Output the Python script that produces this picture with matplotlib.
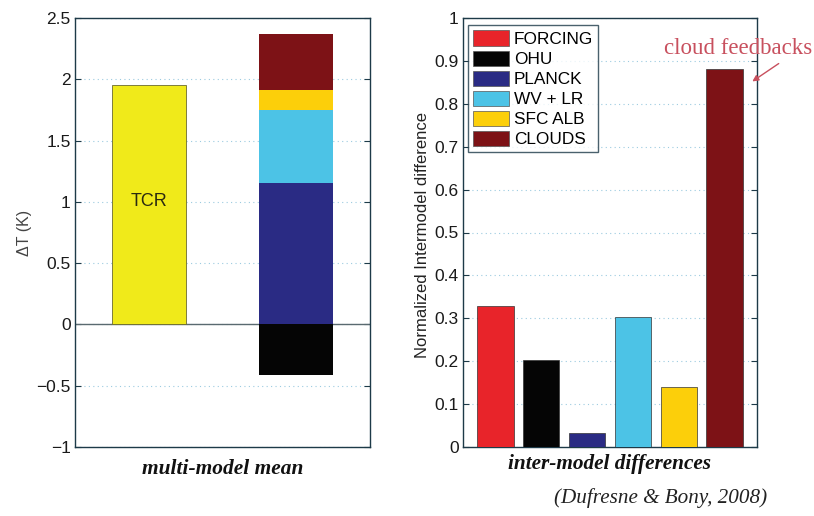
import matplotlib
matplotlib.use("Agg")
import matplotlib.pyplot as plt
from matplotlib.patches import Patch

# ---- data ----
tcr_value = [1.95]
stack_labels = ["OHU", "PLANCK", "WV + LR", "SFC ALB", "CLOUDS"]
stack_values = [-0.41, 1.157, 0.593, 0.16, 0.46]

diff_labels = ["FORCING", "OHU", "PLANCK", "WV + LR", "SFC ALB", "CLOUDS"]
diff_values = [0.329, 0.203, 0.033, 0.304, 0.141, 0.882]

colors = {
    "FORCING": "#e8242a",
    "OHU": "#050505",
    "PLANCK": "#2a2b84",
    "WV + LR": "#4cc3e6",
    "SFC ALB": "#fccf0a",
    "CLOUDS": "#7d1216",
}
tcr_color = "#f0ea1a"

left_yticks = [-1, -0.5, 0, 0.5, 1, 1.5, 2, 2.5]
left_yticklabels = ["\u22121", "\u22120.5", "0", "0.5", "1", "1.5", "2", "2.5"]
right_yticks = [0, 0.1, 0.2, 0.3, 0.4, 0.5, 0.6, 0.7, 0.8, 0.9, 1]
right_yticklabels = ["0", "0.1", "0.2", "0.3", "0.4", "0.5", "0.6", "0.7", "0.8", "0.9", "1"]

plt.rcParams["font.family"] = ["Liberation Sans", "DejaVu Sans"]
spine_color = "#1d3a48"
tick_color = "#1a1a1a"

fig = plt.figure(figsize=(8.14, 5.16), dpi=100)
W, H = 814, 516
ax1 = fig.add_axes([75 / W, 1 - 447 / H, 295 / W, 429 / H])
ax2 = fig.add_axes([463 / W, 1 - 447 / H, 294 / W, 429 / H])

def style(ax):
    for s in ax.spines.values():
        s.set_color(spine_color)
        s.set_linewidth(1.0)
    ax.tick_params(axis="y", direction="in", length=4, color=spine_color,
                   labelsize=12.5, labelcolor=tick_color, right=True, pad=3)
    ax.tick_params(axis="x", bottom=False, labelbottom=False)
    ax.yaxis.grid(True, linestyle=(0, (1, 3)), color="#9ccbe0", linewidth=0.8)
    ax.set_axisbelow(True)

# ---- left panel ----
style(ax1)
ax1.bar([1], tcr_value, width=0.5, color=tcr_color, edgecolor="#6a6a30", linewidth=0.6, zorder=3)
ax1.text(1, 1.0, "TCR", ha="center", va="center", fontsize=13, color="#2a2a10", zorder=4)
pos_bottom = 0.0
for lab, v in zip(stack_labels, stack_values):
    if v < 0:
        ax1.bar([2], [v], width=0.5, bottom=0, color=colors[lab], edgecolor="none", zorder=3)
    else:
        ax1.bar([2], [v], width=0.5, bottom=pos_bottom, color=colors[lab], edgecolor="none", zorder=3)
        pos_bottom += v
ax1.axhline(0, color="#5a6a70", linewidth=1.0, zorder=2)
ax1.set_xlim(0.5, 2.5)
ax1.set_ylim(-1, 2.5)
ax1.set_yticks(left_yticks)
ax1.set_yticklabels(left_yticklabels)
ax1.set_ylabel("\u0394T (K)", fontsize=11.5, color="#444444")
ax1.yaxis.set_label_coords((32 - 75) / 295, 0.5)
ax1.set_xlabel("multi-model mean", fontsize=15.4, fontfamily="Liberation Serif",
               fontweight="bold", fontstyle="italic", color="#111111", labelpad=9)

# ---- right panel ----
style(ax2)
xs = list(range(1, len(diff_values) + 1))
ax2.bar(xs, diff_values, width=0.8, color=[colors[l] for l in diff_labels],
        edgecolor="#333333", linewidth=0.5, zorder=3)
ax2.set_xlim(0.3, 6.7)
ax2.set_ylim(0, 1)
ax2.set_yticks(right_yticks)
ax2.set_yticklabels(right_yticklabels)
ax2.set_ylabel("Normalized Intermodel difference", fontsize=12, color="#222222")
ax2.yaxis.set_label_coords((430 - 463) / 294, 0.495)
ax2.set_xlabel("inter-model differences", fontsize=15.3, fontfamily="Liberation Serif",
               fontweight="bold", fontstyle="italic", color="#111111", labelpad=5)

handles = [Patch(facecolor=colors[l], edgecolor="#555555", linewidth=0.5, label=l) for l in diff_labels]
leg = ax2.legend(handles=handles, loc="upper left", bbox_to_anchor=(0.017, 0.983),
                 fontsize=12.4, frameon=True, fancybox=False, edgecolor=spine_color,
                 handlelength=2.1, handleheight=1.0, handletextpad=0.25,
                 labelspacing=0.2, borderpad=0.3, borderaxespad=0.0)
leg.get_frame().set_linewidth(1.0)

ax2.annotate("cloud feedbacks", xy=(738, 516 - 48), xycoords="figure pixels",
             ha="center", va="center", fontsize=16.5, fontfamily="Liberation Serif",
             color="#c8505e", annotation_clip=False)
ax2.annotate("", xy=(750, 516 - 83), xycoords="figure pixels",
             xytext=(781, 516 - 62), textcoords="figure pixels",
             arrowprops=dict(arrowstyle="-|>", color="#c8505e", lw=1.0, mutation_scale=9),
             annotation_clip=False)

fig.text(661 / W, 1 - 498 / H, "(Dufresne & Bony, 2008)", ha="center", va="center",
         fontsize=15.2, fontfamily="Liberation Serif", fontstyle="italic", color="#222222")

fig.savefig("out.png", dpi=100)
